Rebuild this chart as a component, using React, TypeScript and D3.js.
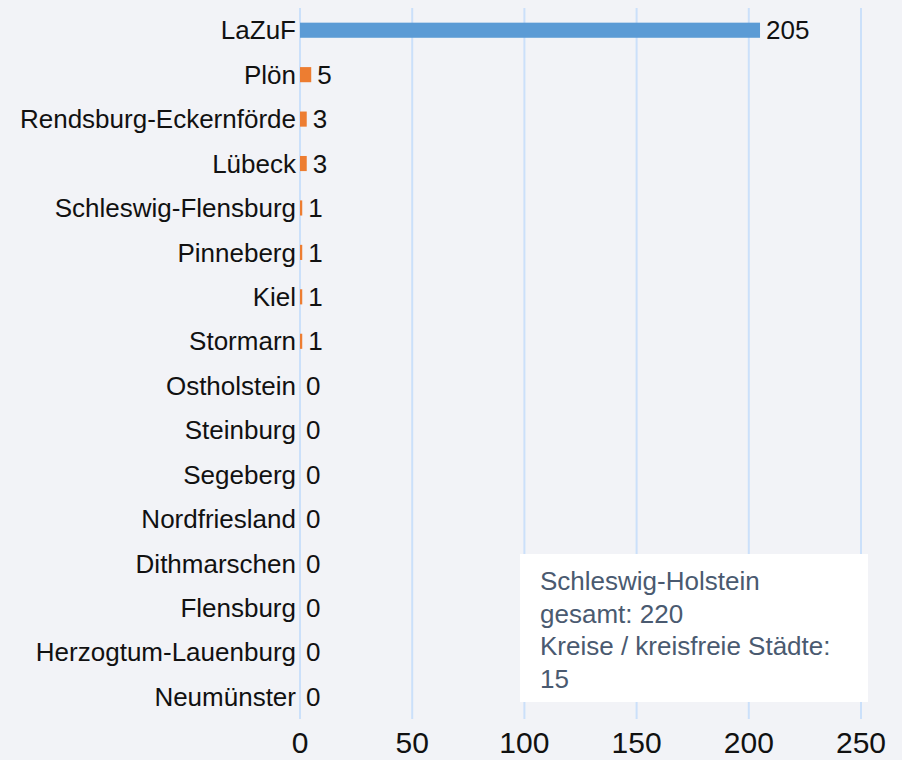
import React, { useEffect, useRef } from 'react';
import * as d3 from 'd3';

// Kreise / kreisfreie Städte plus Landesamt
const categories = [
  'LaZuF', 'Plön', 'Rendsburg-Eckernförde', 'Lübeck', 'Schleswig-Flensburg',
  'Pinneberg', 'Kiel', 'Stormarn', 'Ostholstein', 'Steinburg', 'Segeberg',
  'Nordfriesland', 'Dithmarschen', 'Flensburg', 'Herzogtum-Lauenburg', 'Neumünster'
];
const values = [205, 5, 3, 3, 1, 1, 1, 1, 0, 0, 0, 0, 0, 0, 0, 0];
const highlighted = ['LaZuF'];
const xTicks = [0, 50, 100, 150, 200, 250];
const infoLines = ['Schleswig-Holstein', 'gesamt: 220', 'Kreise / kreisfreie Städte:', '15'];

const W = 902;
const H = 760;
const FONT = '"Liberation Sans", Arial, sans-serif';

export default function App() {
  const svgRef = useRef<SVGSVGElement>(null);

  useEffect(() => {
    const svg = d3.select(svgRef.current);
    svg.selectAll('*').remove();

    const plot = { left: 300, right: 861, top: 8, bottom: 719 };

    const x = d3.scaleLinear().domain([0, 250]).range([plot.left, plot.right]);
    const y = d3.scaleBand<string>()
      .domain(categories)
      .range([plot.top, plot.bottom])
      .paddingInner(0.66)
      .paddingOuter(0.33);

    svg.append('rect')
      .attr('width', W)
      .attr('height', H)
      .attr('fill', '#f2f3f7');

    // vertical grid
    svg.append('g')
      .selectAll('line')
      .data(xTicks)
      .enter()
      .append('line')
      .attr('x1', d => x(d))
      .attr('x2', d => x(d))
      .attr('y1', plot.top)
      .attr('y2', plot.bottom)
      .attr('stroke', '#cbe0fa')
      .attr('stroke-width', 2);

    const data = categories.map((c, i) => ({ name: c, value: values[i] }));

    svg.append('g')
      .selectAll('rect')
      .data(data)
      .enter()
      .append('rect')
      .attr('x', x(0))
      .attr('y', d => y(d.name)!)
      .attr('width', d => x(d.value) - x(0))
      .attr('height', y.bandwidth())
      .attr('fill', d => highlighted.includes(d.name) ? '#5b9bd5' : '#ed7d31');

    // category labels
    svg.append('g')
      .selectAll('text')
      .data(data)
      .enter()
      .append('text')
      .attr('x', x(0) - 4)
      .attr('y', d => y(d.name)! + y.bandwidth() / 2)
      .attr('dy', '0.35em')
      .attr('text-anchor', 'end')
      .attr('font-family', FONT)
      .attr('font-size', 26)
      .attr('fill', '#111')
      .text(d => d.name);

    // value labels
    svg.append('g')
      .selectAll('text')
      .data(data)
      .enter()
      .append('text')
      .attr('x', d => x(d.value) + 6)
      .attr('y', d => y(d.name)! + y.bandwidth() / 2)
      .attr('dy', '0.35em')
      .attr('font-family', FONT)
      .attr('font-size', 26)
      .attr('fill', '#111')
      .text(d => d.value);

    // x axis tick labels
    svg.append('g')
      .selectAll('text')
      .data(xTicks)
      .enter()
      .append('text')
      .attr('x', d => x(d))
      .attr('y', 753)
      .attr('text-anchor', 'middle')
      .attr('font-family', FONT)
      .attr('font-size', 30)
      .attr('fill', '#111')
      .text(d => d);

    // info box
    const box = svg.append('g');
    box.append('rect')
      .attr('x', 520)
      .attr('y', 554)
      .attr('width', 348)
      .attr('height', 148)
      .attr('fill', '#ffffff');
    box.selectAll('text')
      .data(infoLines)
      .enter()
      .append('text')
      .attr('x', 540)
      .attr('y', (d, i) => 590 + i * 32.5)
      .attr('font-family', FONT)
      .attr('font-size', 26)
      .attr('fill', '#4a5a70')
      .text(d => d);
  }, []);

  return (
    <div style={{ position: 'absolute', left: 0, top: 0, width: W, height: H }}>
      <svg ref={svgRef} width={W} height={H} style={{ display: 'block' }} />
    </div>
  );
}
